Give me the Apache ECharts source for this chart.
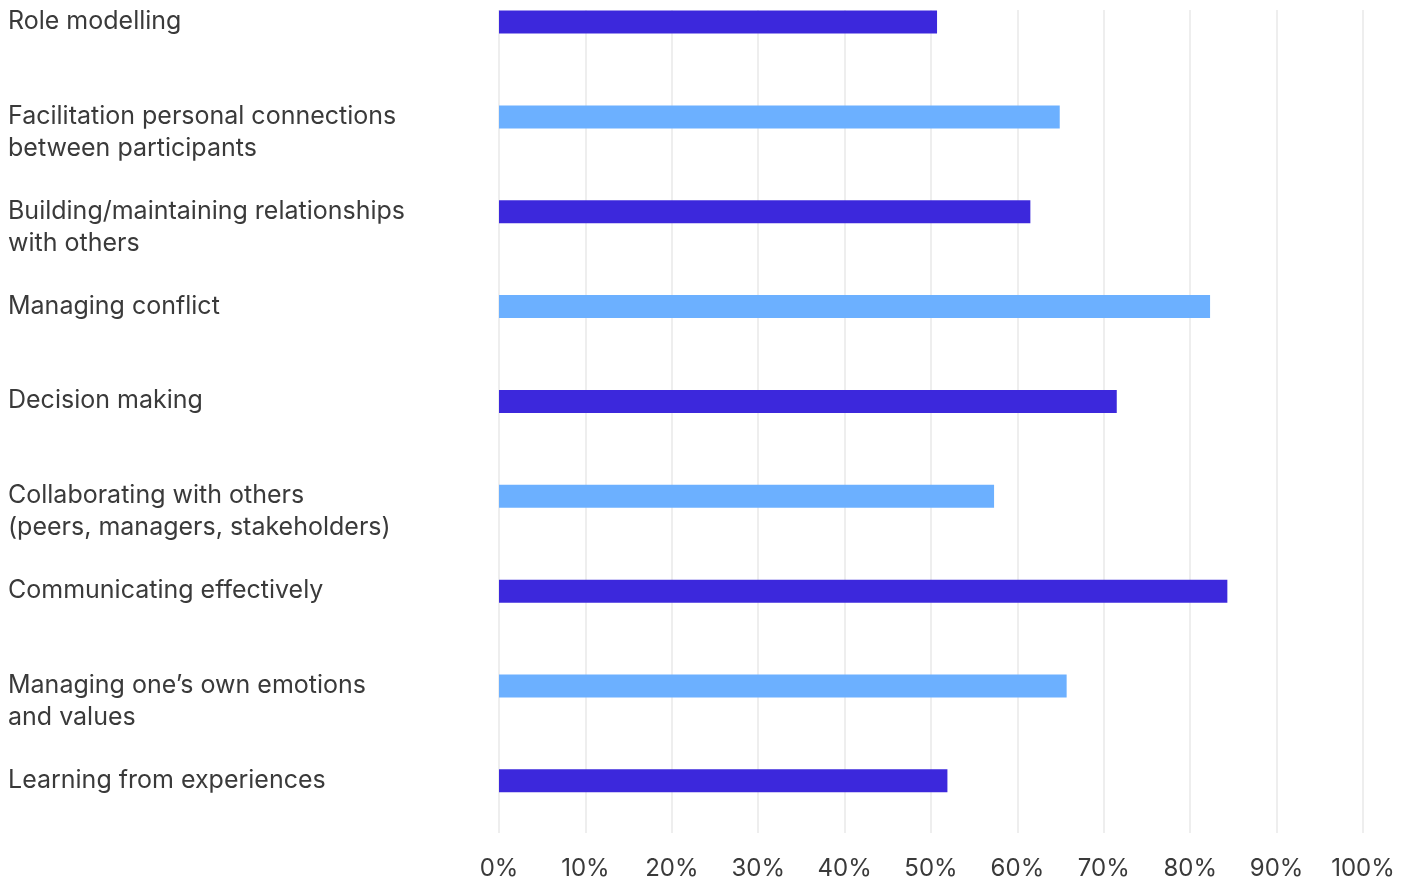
<html style="height: 100%">
<head>
<meta charset="utf-8">
</head>
<body style="height: 100%; margin: 0; background: #fff">
	<div id="container" style="height: 100%"></div>

	<script src="https://cdn.jsdelivr.net/npm/echarts@6/dist/echarts.min.js"></script>
	<script type="text/javascript">
		var dom = document.getElementById("container");
		var myChart = echarts.init(dom);

		// categories, top to bottom
		var categories = [
			'Role modelling',
			'Facilitation personal connections\nbetween participants',
			'Building/maintaining relationships\nwith others',
			'Managing conflict',
			'Decision making',
			'Collaborating with others\n(peers, managers, stakeholders)',
			'Communicating effectively',
			'Managing one\u2019s own emotions\nand values',
			'Learning from experiences'
		];
		// percent values
		var values = [50.7, 64.9, 61.5, 82.3, 71.5, 57.3, 84.3, 65.7, 51.9];
		// bars alternate dark / light
		var barColors = ['#3c28dc', '#6cb0ff'];
		var xTicks = [0, 100, 10];

		var fontName = 'Inter';
		var textColor = '#3a3a3a';

		// grid 0 = gridlines + % labels, grid 1 = bars, grid 2 = category labels
		var option = {
			animation : false,
			grid : [
				{ left : 499, right : 53, top : 10, bottom : 46, outerBoundsMode : 'none' },
				{ left : 499, right : 53, top : -25.4, height : 853.7, outerBoundsMode : 'none' },
				{ left : 499, right : 53, top : -42, height : 853.7, outerBoundsMode : 'none' }
			],
			xAxis : [ {
				gridIndex : 0,
				type : 'value',
				min : xTicks[0],
				max : xTicks[1],
				interval : xTicks[2],
				axisLine : { show : false },
				axisTick : { show : false },
				splitLine : { lineStyle : { color : '#e8e8e8', width : 1.5 } },
				axisLabel : {
					formatter : '{value}%',
					color : textColor,
					fontFamily : fontName,
					fontSize : 24,
					margin : 24
				}
			}, {
				gridIndex : 1,
				type : 'value',
				min : xTicks[0],
				max : xTicks[1],
				show : false
			}, {
				gridIndex : 2,
				type : 'value',
				min : xTicks[0],
				max : xTicks[1],
				show : false
			} ],
			yAxis : [ {
				gridIndex : 0,
				type : 'value',
				show : false
			}, {
				gridIndex : 1,
				type : 'category',
				inverse : true,
				data : categories,
				show : false
			}, {
				gridIndex : 2,
				type : 'category',
				inverse : true,
				data : categories,
				axisLine : { show : false },
				axisTick : { show : false },
				axisLabel : {
					align : 'left',
					verticalAlign : 'top',
					margin : 491,
					lineHeight : 32,
					color : textColor,
					fontFamily : fontName,
					fontSize : 25
				}
			} ],
			series : [ {
				type : 'bar',
				xAxisIndex : 1,
				yAxisIndex : 1,
				barWidth : 23,
				data : values.map(function (v, i) {
					return { value : v, itemStyle : { color : barColors[i % 2] } };
				})
			} ]
		};

		myChart.setOption(option);
	</script>
</body>
</html>
